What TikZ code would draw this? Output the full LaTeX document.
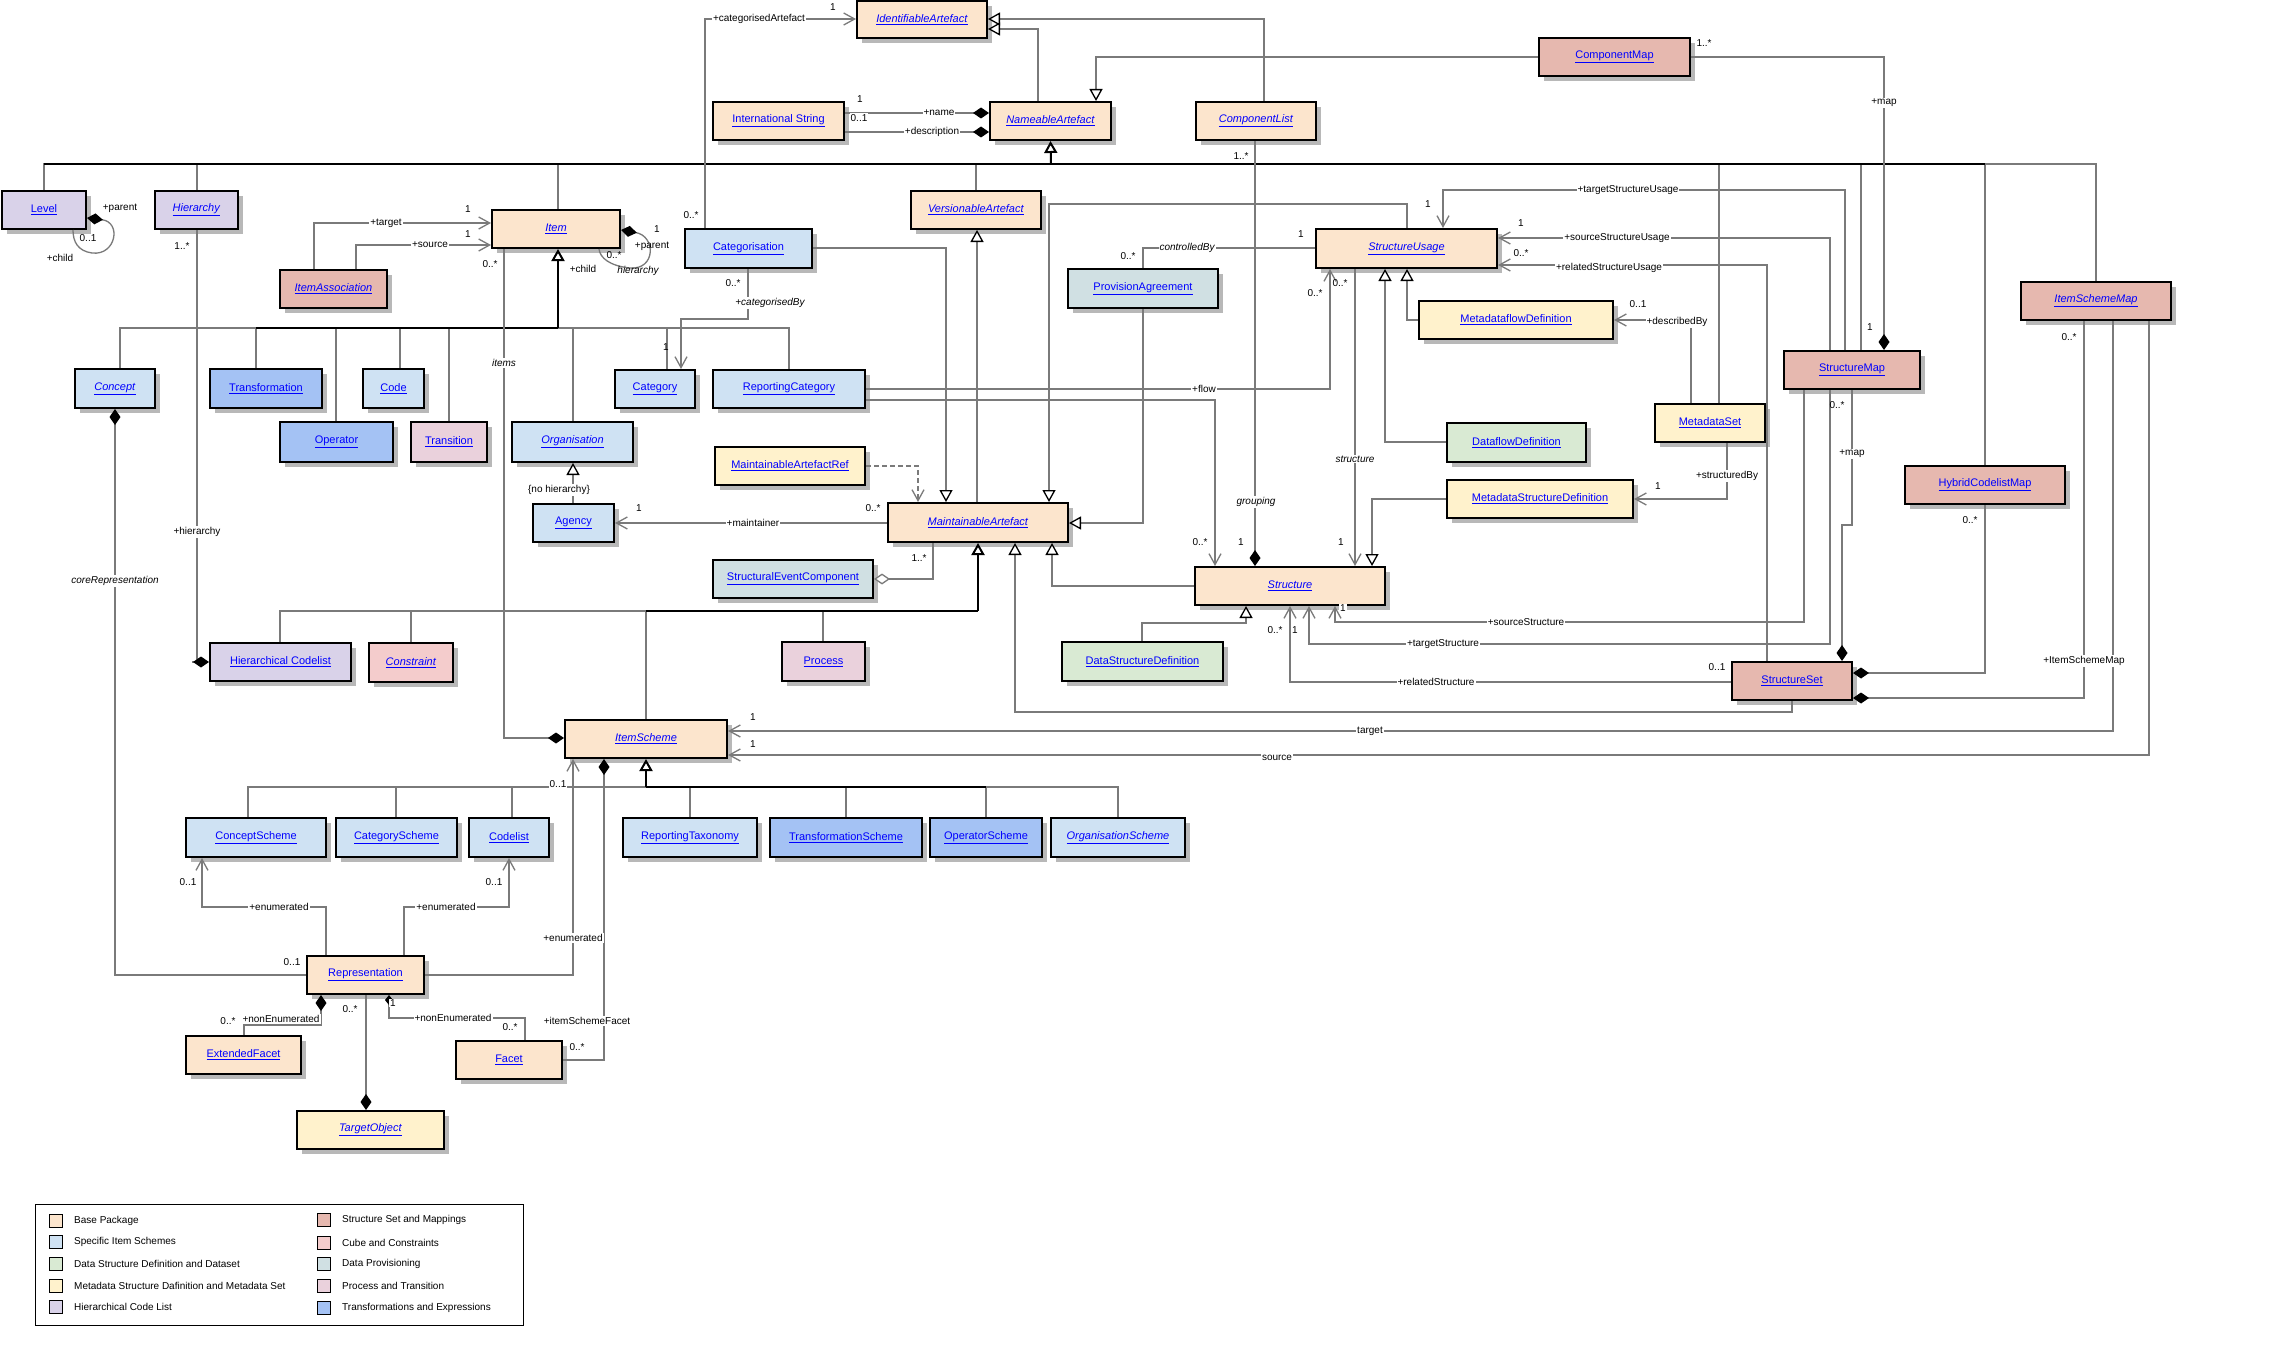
\documentclass[tikz,border=0pt]{standalone}
\usepackage{fontspec}
\setmainfont{Liberation Sans}
\usetikzlibrary{arrows.meta}
\definecolor{cbase}{HTML}{FCE5CD}
\definecolor{cspec}{HTML}{CFE2F3}
\definecolor{cdsd}{HTML}{D9EAD3}
\definecolor{cmeta}{HTML}{FFF2CC}
\definecolor{chier}{HTML}{D9D2E9}
\definecolor{csset}{HTML}{E6B8AF}
\definecolor{ccube}{HTML}{F4CCCC}
\definecolor{cprov}{HTML}{D0E0E3}
\definecolor{cproc}{HTML}{EAD1DC}
\definecolor{ctrans}{HTML}{A4C2F4}
\definecolor{linec}{HTML}{7A7A7A}
\definecolor{shadowc}{HTML}{B8B8B8}
\definecolor{linkblue}{HTML}{0000FF}
\newcommand\ubox[7]{%
  \fill[shadowc] (#2+5,#3+5) rectangle (#4+5,#5+5);
  \node[umlbox, fill=#6, minimum width={#4-#2}, minimum height={#5-#3}] (#1) at ({(#2+#4)/2},{(#3+#5)/2}) {\underline{#7}};}
\tikzset{
  umlbox/.style={draw=black, line width=2pt, inner sep=0pt, text=linkblue, font=\fontsize{11}{13}\selectfont},
  ln/.style={draw=linec, line width=1.3pt},
  trunk/.style={draw=black, line width=2pt},
  gen/.style={ln, arrows={-Triangle[open,length=12pt,width=13pt,fill=white,color=black]}},
  nav/.style={ln, arrows={-Straight Barb[length=11pt,width=12pt]}},
  dep/.style={ln, dashed, dash pattern=on 5pt off 3pt, arrows={-Straight Barb[length=11pt,width=12pt]}},
  comp/.style={ln, arrows={Diamond[length=16pt,width=11pt,color=black]-}},
  compsm/.style={ln, arrows={Diamond[length=10pt,width=8pt,color=black]-}},
  agg/.style={ln, arrows={Diamond[open,length=16pt,width=11pt,fill=white]-}},
  ml/.style={inner sep=1pt, font=\fontsize{10}{12}\selectfont},
  ol/.style={ml, fill=white},
  il/.style={ml, fill=white, font=\fontsize{10}{12}\selectfont\itshape},
  sw/.style={draw=black, line width=0.8pt, minimum size=13pt, inner sep=0pt},
  lgd/.style={anchor=west, inner sep=0pt, font=\fontsize{10}{12}\selectfont}
}
\begin{document}
\begin{tikzpicture}[x=1pt,y=-1pt]
\fill[white] (0,0) rectangle (2293,1351);
\useasboundingbox (0,0) rectangle (2293,1351);

% ---------- boxes ----------
\ubox{IA}{857}{1}{987}{38}{cbase}{\textit{IdentifiableArtefact}}
\ubox{IS}{713}{102}{844}{140}{cbase}{International String}
\ubox{NA}{990}{102}{1111}{140}{cbase}{\textit{NameableArtefact}}
\ubox{CL}{1196}{102}{1316}{140}{cbase}{\textit{ComponentList}}
\ubox{CM}{1539}{38}{1690}{76}{csset}{ComponentMap}
\ubox{Level}{2}{191}{86}{229}{chier}{Level}
\ubox{Hier}{155}{191}{238}{229}{chier}{\textit{Hierarchy}}
\ubox{Item}{492}{210}{620}{248}{cbase}{\textit{Item}}
\ubox{VA}{911}{191}{1041}{229}{cbase}{\textit{VersionableArtefact}}
\ubox{Categ}{685}{229}{812}{268}{cspec}{Categorisation}
\ubox{SU}{1316}{229}{1497}{268}{cbase}{\textit{StructureUsage}}
\ubox{PA}{1068}{269}{1218}{308}{cprov}{ProvisionAgreement}
\ubox{IAs}{280}{270}{387}{308}{csset}{\textit{ItemAssociation}}
\ubox{MDF}{1419}{301}{1613}{339}{cmeta}{MetadataflowDefinition}
\ubox{ISM}{2021}{282}{2171}{320}{csset}{\textit{ItemSchemeMap}}
\ubox{SM}{1784}{351}{1920}{389}{csset}{StructureMap}
\ubox{Concept}{75}{369}{155}{408}{cspec}{\textit{Concept}}
\ubox{Transf}{210}{369}{322}{408}{ctrans}{Transformation}
\ubox{Code}{363}{369}{424}{408}{cspec}{Code}
\ubox{Category}{615}{370}{695}{408}{cspec}{Category}
\ubox{RC}{713}{370}{865}{408}{cspec}{ReportingCategory}
\ubox{Operator}{280}{422}{393}{462}{ctrans}{Operator}
\ubox{Transition}{411}{422}{487}{462}{cproc}{Transition}
\ubox{Org}{512}{422}{633}{462}{cspec}{\textit{Organisation}}
\ubox{DFD}{1447}{423}{1586}{462}{cdsd}{DataflowDefinition}
\ubox{MS}{1655}{404}{1765}{442}{cmeta}{MetadataSet}
\ubox{MARef}{715}{447}{865}{485}{cmeta}{MaintainableArtefactRef}
\ubox{HCM}{1905}{466}{2065}{504}{csset}{HybridCodelistMap}
\ubox{MSD}{1447}{480}{1633}{518}{cmeta}{MetadataStructureDefinition}
\ubox{MA}{888}{503}{1068}{542}{cbase}{\textit{MaintainableArtefact}}
\ubox{Agency}{533}{504}{614}{542}{cspec}{Agency}
\ubox{SEC}{713}{560}{873}{598}{cprov}{StructuralEventComponent}
\ubox{Structure}{1195}{567}{1385}{605}{cbase}{\textit{Structure}}
\ubox{HCL}{210}{643}{351}{681}{chier}{Hierarchical Codelist}
\ubox{Constraint}{369}{643}{453}{682}{ccube}{\textit{Constraint}}
\ubox{Process}{782}{642}{865}{681}{cproc}{Process}
\ubox{DSD}{1062}{642}{1223}{681}{cdsd}{DataStructureDefinition}
\ubox{SS}{1732}{662}{1852}{700}{csset}{StructureSet}
\ubox{ItemScheme}{565}{720}{727}{758}{cbase}{\textit{ItemScheme}}
\ubox{CS}{186}{818}{326}{857}{cspec}{ConceptScheme}
\ubox{CatS}{336}{818}{457}{857}{cspec}{CategoryScheme}
\ubox{Codelist}{469}{818}{549}{857}{cspec}{Codelist}
\ubox{RT}{623}{818}{757}{857}{cspec}{ReportingTaxonomy}
\ubox{TS}{770}{818}{922}{857}{ctrans}{TransformationScheme}
\ubox{OS}{930}{818}{1042}{857}{ctrans}{OperatorScheme}
\ubox{OrgS}{1051}{818}{1185}{857}{cspec}{\textit{OrganisationScheme}}
\ubox{Rep}{307}{956}{424}{994}{cbase}{Representation}
\ubox{EF}{186}{1036}{301}{1074}{cbase}{ExtendedFacet}
\ubox{Facet}{456}{1041}{562}{1079}{cbase}{Facet}
\ubox{TO}{297}{1111}{444}{1149}{cmeta}{\textit{TargetObject}}

% ---------- junctions ----------
\coordinate (naj) at (1051,164);
\coordinate (naL) at (44,164);
\coordinate (naR) at (1985,164);
\coordinate (itj) at (558,328);
\coordinate (itL) at (256,328);
\coordinate (maj) at (978,611);
\coordinate (maL) at (646,611);
\coordinate (isj) at (646,787);
\coordinate (isR) at (986,787);

% ---------- generalization to NameableArtefact ----------
\draw[ln] (Level.north -| 44,0) |- (naj);
\draw[ln] (Hier.north -| 197,0) |- (naj);
\draw[ln] (Item.north -| 558,0) |- (naj);
\draw[ln] (VA.north -| 976,0) |- (naj);
\draw[ln] (MS.north -| 1719,0) |- (naj);
\draw[ln] (SM.north -| 1861,0) |- (naj);
\draw[ln] (HCM.north -| 1985,0) |- (naj);
\draw[ln] (ISM.north -| 2096,0) |- (naj);
\draw[trunk] (naL) -- (naR);
\draw[gen,trunk] (naj) -- (NA.south);

% ---------- to IdentifiableArtefact ----------
\draw[gen] (NA.north -| 1038,0) |- (IA.east |- 0,29);
\draw[gen] (CL.north -| 1264,0) |- (IA.east |- 0,19);
\draw[nav] (Categ.north -| 705,0) |- (IA.west |- 0,19);

% ---------- ComponentMap ----------
\draw[gen] (CM.west |- 0,57) -| (NA.north -| 1096,0);
\draw[comp] (SM.north -| 1884,0) |- (CM.east |- 0,57);

% ---------- InternationalString ----------
\draw[comp] (NA.west |- 0,113) -- (IS.east |- 0,113);
\draw[comp] (NA.west |- 0,132) -- (IS.east |- 0,132);

% ---------- ItemAssociation ----------
\draw[nav] (IAs.north -| 314,0) |- (Item.west |- 0,223);
\draw[nav] (IAs.north -| 356,0) |- (Item.west |- 0,245);

% ---------- self loops ----------
\draw[comp] (Level.east |- 0,218) .. controls (122,222) and (116,256) .. (92,253) .. controls (78,251) and (73,242) .. (Level.south -| 73,0);
\draw[comp] (Item.east |- 0,230) .. controls (656,236) and (656,270) .. (630,268) .. controls (610,266) and (600,258) .. (Item.south -| 599,0);

% ---------- Item generalization tree ----------
\draw[ln] (Concept.north -| 120,0) |- (itj);
\draw[ln] (Transf.north -| 256,0) |- (itj);
\draw[ln] (Operator.north -| 336,0) |- (itj);
\draw[ln] (Code.north -| 400,0) |- (itj);
\draw[ln] (Transition.north -| 449,0) |- (itj);
\draw[ln] (Org.north -| 573,0) |- (itj);
\draw[ln] (Category.north -| 667,0) |- (itj);
\draw[ln] (RC.north -| 789,0) |- (itj);
\draw[trunk] (itL) -- (itj);
\draw[gen,trunk] (itj) -- (Item.south -| 558,0);

% items
\draw[comp] (ItemScheme.west |- 0,738) -| (Item.south -| 504,0);

% ---------- Categorisation ----------
\draw[nav] (Categ.south -| 748,0) -- (748,319) -| (Category.north -| 681,0);
\draw[gen] (Categ.east |- 0,248) -| (MA.north -| 946,0);

% ---------- MaintainableArtefact ----------
\draw[gen] (MA.north -| 977,0) -- (VA.south -| 977,0);
\draw[dep] (MARef.east |- 0,466) -| (MA.north -| 918,0);
\draw[gen] (SU.north -| 1407,0) |- (1049,204) -- (MA.north -| 1049,0);
\draw[gen] (PA.south -| 1143,0) |- (MA.east |- 0,523);
\draw[ln] (PA.north -| 1143,0) |- (SU.west |- 0,248);
\draw[nav] (MA.west |- 0,523) -- (Agency.east |- 0,523);
\draw[gen] (Agency.north -| 573,0) -- (Org.south -| 573,0);
\draw[agg] (SEC.east |- 0,579) -| (MA.south -| 933,0);

\draw[ln] (HCL.north -| 280,0) |- (maj);
\draw[ln] (Constraint.north -| 411,0) |- (maj);
\draw[ln] (ItemScheme.north -| 646,0) |- (maj);
\draw[ln] (Process.north -| 823,0) |- (maj);
\draw[trunk] (maL) -- (maj);
\draw[gen,trunk] (maj) -- (MA.south -| 978,0);

\draw[gen] (SS.south -| 1792,0) |- (1015,712) -- (MA.south -| 1015,0);
\draw[gen] (Structure.west |- 0,586) -| (MA.south -| 1052,0);

% ---------- Structure / StructureUsage ----------
\draw[nav] (RC.east |- 0,389) -| (SU.south -| 1330,0);
\draw[nav] (RC.east |- 0,400) -| (Structure.north -| 1215,0);
\draw[comp] (Structure.north -| 1255,0) -- (CL.south -| 1255,0);
\draw[nav] (SU.south -| 1355,0) -- (Structure.north -| 1355,0);
\draw[gen] (DFD.west |- 0,442) -| (SU.south -| 1385,0);
\draw[gen] (MDF.west |- 0,320) -| (SU.south -| 1407,0);
\draw[gen] (MSD.west |- 0,499) -| (Structure.north -| 1372,0);
\draw[gen] (DSD.north -| 1142,0) |- (1246,623) -- (Structure.south -| 1246,0);

% ---------- StructureMap / StructureSet ----------
\draw[nav] (SM.south -| 1804,0) |- (1335,622) -- (Structure.south -| 1335,0);
\draw[nav] (SM.south -| 1830,0) |- (1309,644) -- (Structure.south -| 1309,0);
\draw[nav] (SS.west |- 0,682) -| (Structure.south -| 1290,0);
\draw[comp] (SS.north -| 1842,0) -- (1842,525) -- (1852,525) -- (SM.south -| 1852,0);
\draw[nav] (SM.north -| 1845,0) |- (1443,190) -- (SU.north -| 1443,0);
\draw[nav] (SM.north -| 1830,0) |- (SU.east |- 0,238);
\draw[nav] (SS.north -| 1767,0) |- (SU.east |- 0,265);

\draw[comp] (SS.east |- 0,698) -| (ISM.south -| 2084,0);
\draw[comp] (SS.east |- 0,673) -| (HCM.south -| 1985,0);
\draw[nav] (ISM.south -| 2113,0) |- (ItemScheme.east |- 0,731);
\draw[nav] (ISM.south -| 2149,0) |- (ItemScheme.east |- 0,755);

% ---------- MetadataSet ----------
\draw[nav] (MS.north -| 1691,0) |- (MDF.east |- 0,320);
\draw[nav] (MS.south -| 1727,0) |- (MSD.east |- 0,499);

% ---------- Hierarchy / Concept ----------
\draw[ln] (Hier.south -| 197,0) -- (197,662);
\draw[comp] (HCL.west |- 0,662) -- (192,662);
\draw[comp] (Concept.south -| 115,0) |- (Rep.west |- 0,975);

% ---------- ItemScheme ----------
\draw[nav] (Rep.east |- 0,975) -| (ItemScheme.south -| 573,0);
\draw[comp] (ItemScheme.south -| 604,0) |- (Facet.east |- 0,1060);
\draw[ln] (CS.north -| 248,0) |- (isj);
\draw[ln] (CatS.north -| 396,0) |- (isj);
\draw[ln] (Codelist.north -| 512,0) |- (isj);
\draw[ln] (RT.north -| 690,0) |- (isj);
\draw[ln] (TS.north -| 846,0) |- (isj);
\draw[ln] (OS.north -| 986,0) |- (isj);
\draw[ln] (OrgS.north -| 1118,0) |- (isj);
\draw[trunk] (isj) -- (isR);
\draw[gen,trunk] (isj) -- (ItemScheme.south -| 646,0);

% ---------- Representation ----------
\draw[nav] (Rep.north -| 326,0) |- (202,907) -- (CS.south -| 202,0);
\draw[nav] (Rep.north -| 404,0) |- (509,907) -- (Codelist.south -| 509,0);
\draw[comp] (Rep.south -| 321,0) -- (321,1025) -| (EF.north -| 244,0);
\draw[compsm] (Rep.south -| 389,0) |- (525,1018) -- (Facet.north -| 525,0);
\draw[comp] (TO.north -| 366,0) -- (Rep.south -| 366,0);

% ---------- labels ----------
\node[ol] (l1) at (759,19) {+categorisedArtefact};
\node[ml] (l2) at (833,7) {1};
\node[ml] (l3) at (691,215) {0..*};
\node[ml] (l4) at (860,99) {1};
\node[ol] (l5) at (859,118) {0..1};
\node[ol] (l6) at (939,113) {+name};
\node[ol] (l7) at (932,132) {+description};
\node[ol] (l8) at (386,223) {+target};
\node[ol] (l9) at (430,245) {+source};
\node[ml] (l10) at (468,209) {1};
\node[ml] (l11) at (468,234) {1};
\node[ml] (l12) at (120,208) {+parent};
\node[ml] (l13) at (88,238) {0..1};
\node[ml] (l14) at (60,258) {+child};
\node[ml] (l15) at (182,246) {1..*};
\node[ml] (l16) at (490,264) {0..*};
\node[ml] (l17) at (583,269) {+child};
\node[il] (l18) at (504,363) {items};
\node[ml] (l19) at (657,229) {1};
\node[ml] (l20) at (652,246) {+parent};
\node[ml] (l21) at (614,255) {0..*};
\node[ml, font=\fontsize{10}{12}\selectfont\itshape] (l22) at (638,271) {hierarchy};
\node[ml] (l23) at (733,283) {0..*};
\node[il] (l24) at (770,303) {+categorisedBy};
\node[ml] (l25) at (666,347) {1};
\node[ml] (l26) at (1128,256) {0..*};
\node[il] (l27) at (1187,248) {controlledBy};
\node[ml] (l28) at (1301,234) {1};
\node[ol] (l29) at (1204,389) {+flow};
\node[ml] (l30) at (1315,293) {0..*};
\node[ml] (l31) at (1340,283) {0..*};
\node[il] (l32) at (1355,459) {structure};
\node[ml] (l33) at (1341,542) {1};
\node[ml] (l34) at (1241,156) {1..*};
\node[il] (l35) at (1256,502) {grouping};
\node[ml] (l36) at (1241,542) {1};
\node[ml] (l37) at (1200,542) {0..*};
\node[ol] (l38) at (1628,190) {+targetStructureUsage};
\node[ml] (l39) at (1428,204) {1};
\node[ol] (l40) at (1617,238) {+sourceStructureUsage};
\node[ml] (l41) at (1521,223) {1};
\node[ol] (l42) at (1609,268) {+relatedStructureUsage};
\node[ml] (l43) at (1521,253) {0..*};
\node[ml] (l44) at (1638,304) {0..1};
\node[ol] (l45) at (1677,322) {+describedBy};
\node[ml] (l46) at (1704,43) {1..*};
\node[ol] (l47) at (1884,103) {+map};
\node[ml] (l48) at (1870,327) {1};
\node[ml] (l49) at (1837,405) {0..*};
\node[ol] (l50) at (1852,454) {+map};
\node[ml] (l51) at (2069,337) {0..*};
\node[ol] (l52) at (2084,661) {+ItemSchemeMap};
\node[ml] (l53) at (1970,520) {0..*};
\node[ol] (l54) at (1727,476) {+structuredBy};
\node[ml] (l55) at (1658,486) {1};
\node[ol] (l56) at (1526,622) {+sourceStructure};
\node[ol] (l57) at (1343,608) {1};
\node[ol] (l58) at (1443,644) {+targetStructure};
\node[ml] (l59) at (1295,630) {1};
\node[ol] (l60) at (1436,682) {+relatedStructure};
\node[ml] (l61) at (1275,630) {0..*};
\node[ml] (l62) at (1717,667) {0..1};
\node[ol] (l63) at (1370,731) {target};
\node[ol] (l64) at (1277,758) {source};
\node[ml] (l65) at (753,717) {1};
\node[ml] (l66) at (753,744) {1};
\node[ol] (l67) at (753,523) {+maintainer};
\node[ml] (l68) at (639,508) {1};
\node[ml] (l69) at (873,508) {0..*};
\node[ml] (l70) at (919,558) {1..*};
\node[ol] (l71) at (559,490) {\{no hierarchy\}};
\node[ol] (l72) at (197,532) {+hierarchy};
\node[il] (l73) at (115,581) {coreRepresentation};
\node[ol] (l74) at (558,784) {0..1};
\node[ol] (l75) at (573,938) {+enumerated};
\node[ml] (l76) at (577,1047) {0..*};
\node[ol] (l77) at (587,1021) {+itemSchemeFacet};
\node[ml] (l78) at (188,882) {0..1};
\node[ol] (l79) at (279,907) {+enumerated};
\node[ml] (l80) at (494,882) {0..1};
\node[ol] (l81) at (446,907) {+enumerated};
\node[ml] (l82) at (292,962) {0..1};
\node[ml] (l83) at (228,1021) {0..*};
\node[ol] (l84) at (281,1019) {+nonEnumerated};
\node[ml] (l85) at (350,1009) {0..*};
\node[ol] (l86) at (393,1003) {1};
\node[ol] (l87) at (453,1018) {+nonEnumerated};
\node[ml] (l88) at (510,1027) {0..*};

% ---------- legend ----------
\node[draw=black, line width=1pt, minimum width=488pt, minimum height=121pt, inner sep=0pt] (legend) at (279,1264.5) {};
\node[sw, fill=cbase] (s1) at (55.5,1221) {};
\node[sw, fill=cspec] (s2) at (55.5,1242) {};
\node[sw, fill=cdsd] (s3) at (55.5,1264) {};
\node[sw, fill=cmeta] (s4) at (55.5,1286) {};
\node[sw, fill=chier] (s5) at (55.5,1307) {};
\node[sw, fill=csset] (s6) at (323.5,1220) {};
\node[sw, fill=ccube] (s7) at (323.5,1243) {};
\node[sw, fill=cprov] (s8) at (323.5,1264) {};
\node[sw, fill=cproc] (s9) at (323.5,1286) {};
\node[sw, fill=ctrans] (s10) at (323.5,1308) {};
\node[lgd] (t1) at (74,1221) {Base Package};
\node[lgd] (t2) at (74,1242) {Specific Item Schemes};
\node[lgd] (t3) at (74,1264) {Data Structure Definition and Dataset};
\node[lgd] (t4) at (74,1286) {Metadata Structure Dafinition and Metadata Set};
\node[lgd] (t5) at (74,1307) {Hierarchical Code List};
\node[lgd] (t6) at (342,1220) {Structure Set and Mappings};
\node[lgd] (t7) at (342,1243) {Cube and Constraints};
\node[lgd] (t8) at (342,1264) {Data Provisioning};
\node[lgd] (t9) at (342,1286) {Process and Transition};
\node[lgd] (t10) at (342,1308) {Transformations and Expressions};
\end{tikzpicture}
\end{document}
